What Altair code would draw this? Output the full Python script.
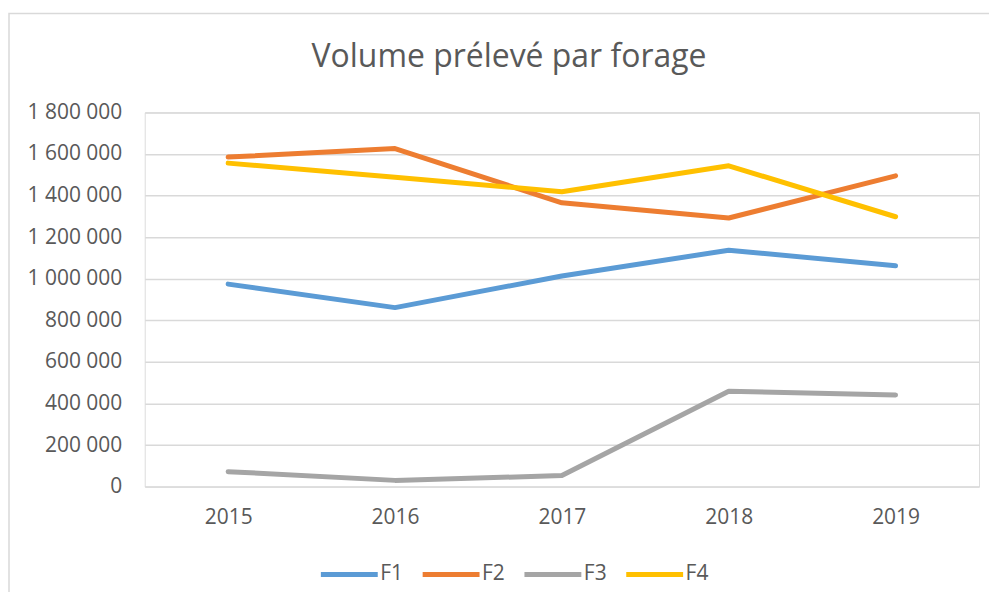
import altair as alt
import pandas as pd

years = ["2015", "2016", "2017", "2018", "2019"]
F1 = [974000, 861000, 1013000, 1137000, 1062000]
F2 = [1585000, 1626000, 1365000, 1292000, 1495000]
F3 = [72000, 30000, 53000, 459000, 441000]
F4 = [1556000, 1488000, 1418000, 1543000, 1298000]
series = ["F1", "F2", "F3", "F4"]
colors = ["#5B9BD5", "#ED7D31", "#A5A5A5", "#FFC000"]

rows = []
for name, vals in zip(series, [F1, F2, F3, F4]):
    for y, v in zip(years, vals):
        rows.append({"Année": y, "Forage": name, "Volume": v})
df = pd.DataFrame(rows)

W, H = 836, 375
FONT = "Open Sans"
TXT = "#595959"

frame = alt.Chart(pd.DataFrame({"a": [0]})).mark_rect(
    fill=None, stroke="#D9D9D9", strokeWidth=1.5, clip=False
).encode(
    x=alt.value(-136), x2=alt.value(W + 200),
    y=alt.value(-99), y2=alt.value(H + 200),
)

lines = alt.Chart(df).mark_line(
    strokeWidth=5, strokeCap="round", strokeJoin="round"
).encode(
    x=alt.X("Année:O", sort=years, scale=alt.Scale(type="point", padding=0.5),
            axis=alt.Axis(title=None, labelAngle=0, domain=False, ticks=False,
                          labelPadding=20, labelFontSize=21, labelColor=TXT,
                          labelFont=FONT, grid=False)),
    y=alt.Y("Volume:Q", scale=alt.Scale(domain=[0, 1800000], nice=False),
            axis=alt.Axis(title=None, values=list(range(0, 1800001, 200000)),
                          domain=False, ticks=False, labelPadding=23,
                          labelFontSize=21, labelColor=TXT, labelFont=FONT,
                          grid=True, gridColor="#D9D9D9", gridWidth=1.5,
                          labelExpr="replace(format(datum.value, ','), regexp(',', 'g'), ' ')")),
    color=alt.Color("Forage:N", scale=alt.Scale(domain=series, range=colors),
                    legend=alt.Legend(title=None, orient="none", direction="horizontal",
                                      legendX=174, legendY=432,
                                      symbolType="stroke", symbolSize=3249,
                                      symbolStrokeWidth=5, labelFontSize=21,
                                      labelColor=TXT, labelFont=FONT,
                                      labelOffset=0, columnPadding=9)),
)

chart = alt.layer(frame, lines).properties(
    width=W, height=H,
    title=alt.Title("Volume prélevé par forage", fontSize=32, font=FONT,
                    fontWeight="normal", color=TXT, anchor="middle",
                    frame="group", dx=-53, offset=0, dy=61),
    autosize=alt.AutoSizeParams(type="none"),
    padding={"left": 137, "top": 104, "right": 10, "bottom": 105},
).configure_view(stroke=None).configure(background="white")

chart.save("out.html", embed_options={"renderer": "svg", "actions": False})
